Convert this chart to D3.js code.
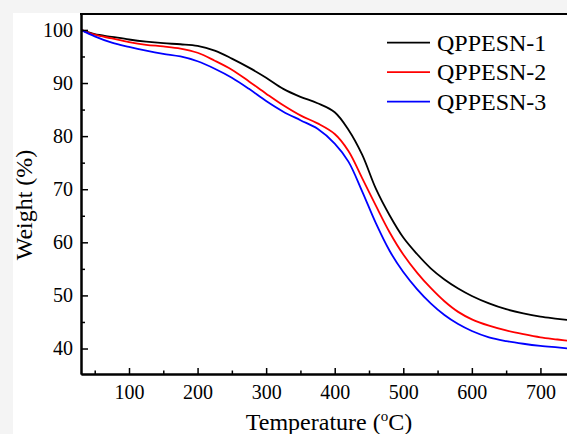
<!DOCTYPE html>
<html>
<head>
<meta charset="utf-8">
<script src="https://cdn.jsdelivr.net/npm/d3@7"></script>
<style>
  html, body { margin: 0; padding: 0; background: #f4f4f4; overflow: hidden; }
  svg { display: block; font-family: "Liberation Serif", "Times New Roman", serif; }
</style>
</head>
<body>
<svg id="chart" width="567" height="434"></svg>
<script>
// temperatures (°C)
const temps = [30, 50, 75, 100, 125, 150, 175, 200, 225, 250, 275, 300, 325, 350, 375, 400,
    420, 440, 460, 480, 500, 520, 540, 560, 580, 600, 625, 650, 675, 700, 725, 750];

// weight (%) for each sample
const qppesn1 = [100, 99.2, 98.7, 98.2, 97.8, 97.5, 97.3, 97.0, 96.1, 94.6, 92.9, 91.0, 88.9, 87.4, 86.2, 84.5,
    81.2, 76.5, 70.1, 65.1, 60.9, 57.8, 55.1, 53.0, 51.3, 49.9, 48.5, 47.4, 46.6, 46.0, 45.6, 45.2];
const qppesn2 = [100, 99.1, 98.4, 97.7, 97.2, 96.9, 96.5, 95.7, 94.2, 92.5, 90.3, 88.0, 85.8, 83.9, 82.4, 80.4,
    77.2, 72.1, 66.9, 61.9, 57.7, 54.3, 51.4, 48.9, 46.9, 45.5, 44.3, 43.4, 42.7, 42.1, 41.7, 41.3];
const qppesn3 = [100, 98.8, 97.6, 96.8, 96.1, 95.5, 95.0, 94.1, 92.7, 91.0, 88.9, 86.6, 84.6, 83.0, 81.4, 78.6,
    75.2, 69.6, 63.6, 58.4, 54.4, 51.2, 48.5, 46.3, 44.6, 43.3, 42.1, 41.4, 40.9, 40.5, 40.2, 39.9];

const seriesNames = ["QPPESN-1", "QPPESN-2", "QPPESN-3"];
const seriesColors = ["#000000", "#ff0000", "#0000ff"];
const seriesValues = [qppesn1, qppesn2, qppesn3];

const xTicks = [100, 200, 300, 400, 500, 600, 700];
const xMinor = [50, 150, 250, 350, 450, 550, 650, 750];
const yTicks = [40, 50, 60, 70, 80, 90, 100];
const yMinor = [45, 55, 65, 75, 85, 95];

const svg = d3.select("#chart");
const W = 567, H = 434;
const plot = { left: 81, top: 14, bottom: 374, right: 609 };

// white panel behind the figure
svg.append("rect")
    .attr("x", 13).attr("y", 13)
    .attr("width", W - 13).attr("height", H - 13)
    .attr("fill", "#ffffff");

const x = d3.scaleLinear().domain([30, 800]).range([plot.left, plot.right]);
const y = d3.scaleLinear().domain([35.2, 103]).range([plot.bottom, plot.top]);

svg.append("defs").append("clipPath").attr("id", "clip")
    .append("rect")
    .attr("x", plot.left).attr("y", plot.top)
    .attr("width", plot.right - plot.left).attr("height", plot.bottom - plot.top);

// curves
const line = d3.line()
    .x(d => x(d[0]))
    .y(d => y(d[1]))
    .curve(d3.curveCatmullRom.alpha(0.5));

seriesValues.forEach((vals, i) => {
    svg.append("path")
        .datum(temps.map((t, j) => [t, vals[j]]))
        .attr("clip-path", "url(#clip)")
        .attr("fill", "none")
        .attr("stroke", seriesColors[i])
        .attr("stroke-width", 1.8)
        .attr("d", line);
});

// axes with inward ticks
svg.append("g")
    .attr("transform", `translate(0,${plot.bottom})`)
    .call(d3.axisBottom(x).tickValues(xTicks).tickSize(-6).tickSizeOuter(0).tickPadding(11));
svg.append("g")
    .attr("transform", `translate(0,${plot.bottom})`)
    .call(d3.axisBottom(x).tickValues(xMinor).tickSize(-3.5).tickSizeOuter(0).tickFormat(""));

svg.append("g")
    .attr("transform", `translate(${plot.left},0)`)
    .call(d3.axisLeft(y).tickValues(yTicks).tickSize(-7).tickSizeOuter(0).tickPadding(8));
svg.append("g")
    .attr("transform", `translate(${plot.left},0)`)
    .call(d3.axisLeft(y).tickValues(yMinor).tickSize(-4).tickSizeOuter(0).tickFormat(""));

svg.selectAll(".domain").attr("stroke", "#000").attr("stroke-width", 2);
svg.selectAll(".tick line").attr("stroke", "#000").attr("stroke-width", 1.5);
svg.selectAll(".tick text")
    .attr("fill", "#000")
    .style("font-size", "20px")
    .style("font-family", "Liberation Serif, serif");

// top border of the frame
svg.append("line")
    .attr("x1", plot.left - 1).attr("x2", W)
    .attr("y1", plot.top).attr("y2", plot.top)
    .attr("stroke", "#000").attr("stroke-width", 2);

// axis titles
const xLabel = svg.append("text")
    .attr("x", 329).attr("y", 430)
    .attr("text-anchor", "middle")
    .style("font-size", "24px")
    .text("Temperature (");
xLabel.append("tspan").attr("dy", -9).style("font-size", "15px").text("o");
xLabel.append("tspan").attr("dy", 9).text("C)");

svg.append("text")
    .attr("transform", "translate(32,205) rotate(-90)")
    .attr("text-anchor", "middle")
    .style("font-size", "24px")
    .text("Weight (%)");

// legend
const legend = svg.append("g");
seriesNames.forEach((name, i) => {
    const ly = 42.7 + i * 29.5;
    legend.append("line")
        .attr("x1", 387).attr("x2", 430)
        .attr("y1", ly).attr("y2", ly)
        .attr("stroke", seriesColors[i])
        .attr("stroke-width", 1.8);
    legend.append("text")
        .attr("x", 437).attr("y", ly)
        .attr("dy", "0.33em")
        .style("font-size", "24px")
        .text(name);
});
</script>
</body>
</html>
